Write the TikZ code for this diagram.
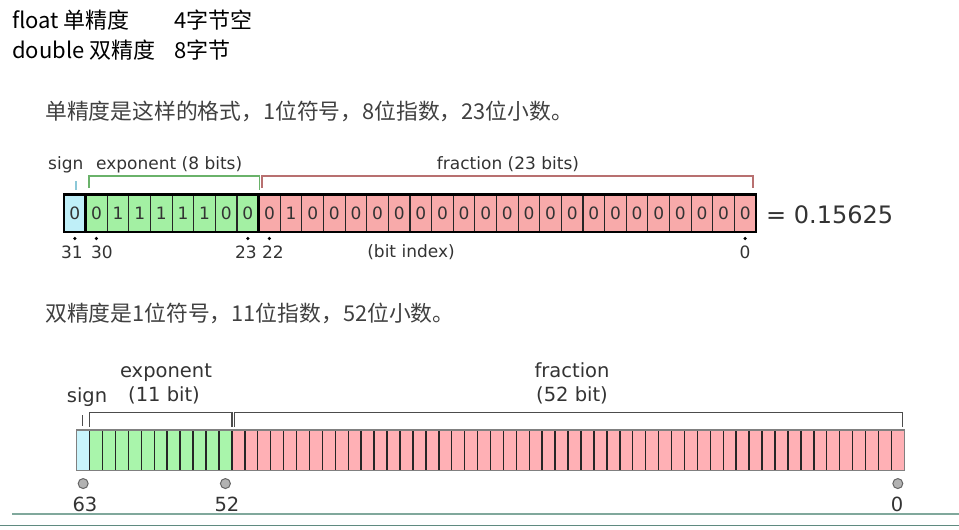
\documentclass[tikz,border=0pt]{standalone}
\usepackage{fontspec}
\setmainfont{DejaVu Sans}
\newfontfamily\cjk{Noto Sans CJK SC}
\usetikzlibrary{calc}
\definecolor{signc}{HTML}{BFEFF8}
\definecolor{expc}{HTML}{A3F0A3}
\definecolor{fracc}{HTML}{F8AAAA}
\definecolor{dsignc}{HTML}{C9F4FC}
\definecolor{dexpc}{HTML}{A9F5AB}
\definecolor{dfracc}{HTML}{FFB0B5}
\definecolor{signbrc}{HTML}{8CC8D8}
\definecolor{expbrc}{HTML}{6AB26A}
\definecolor{fracbrc}{HTML}{B87070}
\definecolor{txtc}{HTML}{333333}
\definecolor{notec}{HTML}{404040}
\definecolor{lineA}{HTML}{80A89C}
\definecolor{lineB}{HTML}{5F8A80}
\tikzset{
  toptext/.style={inner sep=0pt, anchor=base west, font=\cjk\fontsize{22}{26}\selectfont, text=black},
  note/.style={inner sep=0pt, anchor=base west, font=\cjk\fontsize{21.8}{26}\selectfont, text=notec},
  slab/.style={inner sep=0pt, font=\fontsize{17}{20}\selectfont, text=txtc},
  dlab/.style={inner sep=0pt, font=\fontsize{19.5}{23}\selectfont, text=txtc},
  scell/.style={draw=black!85, line width=1.2pt, minimum width=21.625pt, minimum height=37.5pt,
    inner sep=0pt, outer sep=0pt, font=\fontsize{17}{20}\selectfont, text=txtc},
  dcell/.style={draw=black!85, line width=1.5pt, minimum width=12.931pt, minimum height=40.5pt,
    inner sep=0pt, outer sep=0pt},
  grp/.style={draw=black, line width=2.6pt},
  sdot/.style={fill=black},
  dcirc/.style={fill=black!30, draw=black!60, line width=1pt},
  dbr/.style={draw=black!70, line width=1.3pt},
}
\begin{document}
\begin{tikzpicture}[x=1pt,y=-1pt]
\useasboundingbox (0,0) rectangle (959,530);

% top text
\node[toptext] (t1) at (12,28) {float 单精度};
\node[toptext] (t2) at (174,28) {4字节空};
\node[toptext] (t3) at (12,58) {double 双精度};
\node[toptext] (t4) at (174,58) {8字节};

\node[note] (n1) at (45,119) {单精度是这样的格式，1位符号，8位指数，23位小数。};
\node[note] (n2) at (45,321) {双精度是1位符号，11位指数，52位小数。};

% ---------- single precision ----------
\node[scell, fill=signc] (s0) at ({64+0.5*21.625},213.25) {0};
\foreach \b [count=\i from 1] in {0,1,1,1,1,1,0,0}
  \node[scell, fill=expc] (s\i) at ({64+(\i+0.5)*21.625},213.25) {\b};
\foreach \b [count=\i from 9] in {0,1,0,0,0,0,0,0,0,0,0,0,0,0,0,0,0,0,0,0,0,0,0}
  \node[scell, fill=fracc] (s\i) at ({64+(\i+0.5)*21.625},213.25) {\b};
\draw[grp] (s0.north west) rectangle (s0.south east);
\draw[grp] (s1.north west) rectangle (s8.south east);
\draw[grp] (s9.north west) rectangle (s31.south east);

% brackets
\draw[signbrc, line width=1.3pt] (76,181) -- (76,190);
\draw[expbrc, line width=1.3pt] (89,188) -- (89,176) -- (259.5,176) -- (259.5,190);
\draw[fracbrc, line width=1.3pt] (262,188) -- (262,176) -- (753,176) -- (753,188);

\node[slab, anchor=base west] (lsign) at (48,169) {sign};
\node[slab, anchor=base west] (lexp) at (96,169) {exponent (8 bits)};
\node[slab, anchor=base] (lfrac) at (508,169) {fraction (23 bits)};

% index dots
\foreach \k in {0,1,8,9,31}
  \fill[sdot] ($(s\k.south)+(0,6.5)$) circle (1.8);
\node[slab, anchor=base] (i31) at (72,258) {31};
\node[slab, anchor=base] (i30) at (102,258) {30};
\node[slab, anchor=base] (i23) at (246,258) {23};
\node[slab, anchor=base] (i22) at (273,258) {22};
\node[slab, anchor=base] (i0) at (745,258) {0};
\node[slab, anchor=base] (bi) at (411,257) {(bit index)};

\node[inner sep=0pt, anchor=base west, font=\fontsize{24}{28}\selectfont, text=txtc] (val) at (766,223) {= 0.15625};

% ---------- double precision ----------
\node[dcell, fill=dsignc] (d0) at ({76.7+0.5*12.931},450.3) {};
\foreach \i in {1,...,11}
  \node[dcell, fill=dexpc] (d\i) at ({76.7+(\i+0.5)*12.931},450.3) {};
\foreach \i in {12,...,63}
  \node[dcell, fill=dfracc] (d\i) at ({76.7+(\i+0.5)*12.931},450.3) {};
\draw[draw=black!50, line width=1.2pt] (d0.north west) rectangle (d63.south east);

\draw[dbr] (82.7,415) -- (82.7,426);
\draw[dbr] (89.3,426.7) -- (89.3,412.5) -- (232,412.5) -- (232,427);
\draw[dbr] (234.3,427) -- (234.3,412.5) -- (902.5,412.5) -- (902.5,427);

\node[dlab, anchor=base west] (dsign) at (66.7,402) {sign};
\node[dlab, anchor=base] (dexp) at (166,377) {exponent};
\node[dlab, anchor=base] (dexpb) at (164,401) {(11 bit)};
\node[dlab, anchor=base] (dfrac) at (572,377) {fraction};
\node[dlab, anchor=base] (dfracb) at (572,401) {(52 bit)};

\foreach \k in {0,11,63}
  \draw[dcirc] ($(d\k.south)+(0,13)$) circle (5);
\node[dlab, anchor=base] (j63) at (85,511.5) {63};
\node[dlab, anchor=base] (j52) at (227,511.5) {52};
\node[dlab, anchor=base] (j0) at (897,511.5) {0};

% bottom rules
\coordinate (la) at (12,514);
\coordinate (lb) at (959,514);
\coordinate (lc) at (0,525.5);
\coordinate (ld) at (959,525.5);
\draw[lineA, line width=1.3pt] (la) -- (lb);
\draw[lineB, line width=1.3pt] (lc) -- (ld);
\end{tikzpicture}
\end{document}
